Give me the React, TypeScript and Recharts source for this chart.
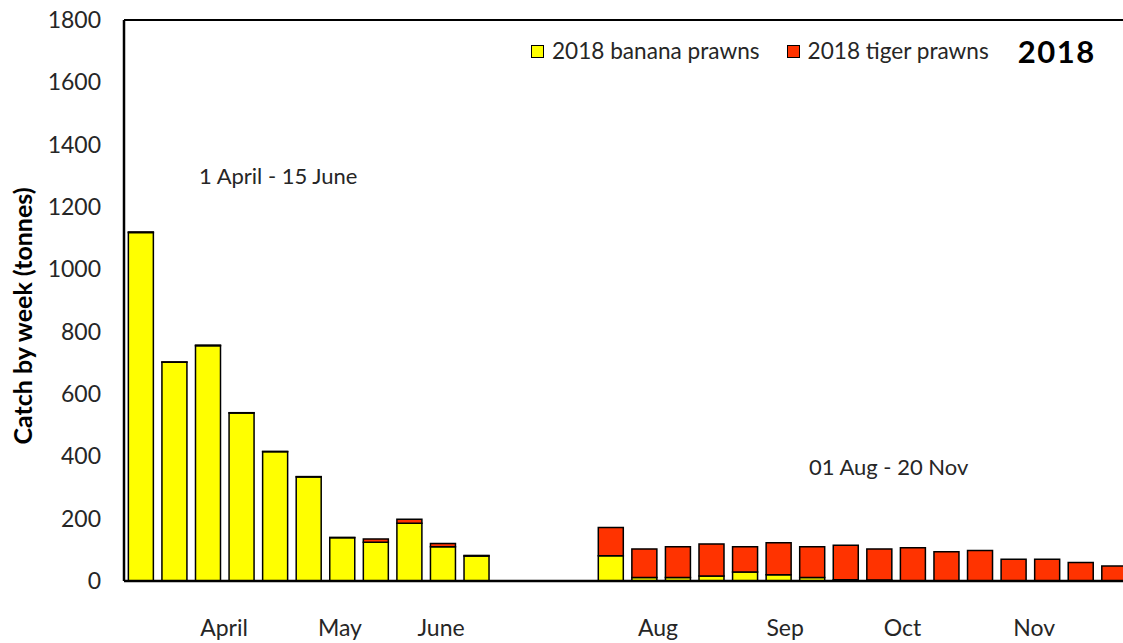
import React from 'react';
import { BarChart, Bar, XAxis, YAxis, ReferenceLine, Legend } from 'recharts';

// weekly catch, 1 Apr - 15 Jun then 01 Aug - 20 Nov (three blank slots for the closed season)
const weeks = [
  '1 Apr', '8 Apr', '15 Apr', '22 Apr', '29 Apr', '6 May', '13 May', '20 May', '27 May', '3 Jun', '10 Jun',
  '', '', '',
  '1 Aug', '8 Aug', '15 Aug', '22 Aug', '29 Aug', '5 Sep', '12 Sep', '19 Sep', '26 Sep',
  '3 Oct', '10 Oct', '17 Oct', '24 Oct', '31 Oct', '7 Nov', '14 Nov',
];
const banana = [
  1118, 702, 755, 539, 415, 334, 139, 124, 185, 110, 80,
  null, null, null,
  81, 11, 11, 16, 29, 20, 11, 4, 3, 0, 0, 0, 0, 0, 0, 0,
];
const tiger = [
  2, 1, 2, 1, 1, 1, 1, 11, 13, 10, 2,
  null, null, null,
  91, 92, 99, 103, 81, 103, 99, 111, 100, 107, 94, 98, 70, 70, 59, 48,
];
const yTicks = [0, 200, 400, 600, 800, 1000, 1200, 1400, 1600, 1800];
const monthNames = ['April', 'May', 'June', 'Aug', 'Sep', 'Oct', 'Nov'];
// label positions on a 0-29 scale spanning the plot width
const monthPos = [2.88, 6.22, 9.13, 15.38, 19.04, 22.42, 26.21];

const data = weeks.map((w, i) => ({ week: w, banana: banana[i], tiger: tiger[i] }));

const FONT = 'Lato, "Open Sans", sans-serif';
const TEXT = '#262626';

function LegendBox({ payload }: any) {
  return (
    <div style={{ display: 'flex', alignItems: 'center', fontFamily: FONT, color: TEXT, fontSize: 22.6, lineHeight: '30px', whiteSpace: 'nowrap' }}>
      {(payload || []).map((p: any) => (
        <div key={p.value} style={{ display: 'flex', alignItems: 'center', marginRight: 27 }}>
          <span style={{ display: 'inline-block', width: 11, height: 11, background: p.color, border: '1px solid #000', marginRight: 8 }} />
          <span>{p.value}</span>
        </div>
      ))}
      <span style={{ fontWeight: 700, fontSize: 31, letterSpacing: 1.5, color: '#000', marginLeft: 2 }}>2018</span>
    </div>
  );
}

export default function App() {
  return (
    <div style={{ position: 'fixed', left: 0, top: 0, width: 1123, height: 643, overflow: 'hidden', background: '#fff', fontFamily: FONT }}>
      <BarChart width={1131} height={643} data={data} margin={{ top: 20, right: 0, bottom: 0, left: 0 }} barCategoryGap="13%">
        <XAxis dataKey="week" hide height={0} />
        <XAxis
          xAxisId="m"
          type="number"
          domain={[0, 29]}
          allowDataOverflow
          ticks={monthPos}
          tickFormatter={(v: number) => monthNames[monthPos.indexOf(v)] ?? ''}
          axisLine={{ stroke: '#000', strokeWidth: 2.5 }}
          tickLine={false}
          tickSize={0}
          tickMargin={39}
          height={62}
          tick={{ fill: TEXT, fontSize: 23, fontFamily: FONT }}
          interval={0}
        />
        <YAxis
          domain={[0, 1800]}
          ticks={yTicks}
          width={124}
          axisLine={{ stroke: '#000', strokeWidth: 2.5 }}
          tickLine={false}
          tickSize={0}
          tickMargin={23}
          tick={{ fill: TEXT, fontSize: 23, fontFamily: FONT }}
          label={() => (
            <text
              x={22}
              y={316}
              transform="rotate(-90, 22, 316)"
              textAnchor="middle"
              dominantBaseline="central"
              style={{ fontFamily: FONT, fontSize: 25, fontWeight: 700, fill: '#000' }}
            >
              Catch by week (tonnes)
            </text>
          )}
        />
        <ReferenceLine y={1800} stroke="#000" strokeWidth={2} ifOverflow="visible" />
        <Legend
          content={<LegendBox />}
          layout="horizontal"
          verticalAlign="middle"
          align="center"
          wrapperStyle={{ left: 531, top: 36, width: 'auto' }}
        />
        <Bar dataKey="banana" name="2018 banana prawns" stackId="a" fill="#FFFF00" stroke="#000" strokeWidth={1.5} isAnimationActive={false} />
        <Bar dataKey="tiger" name="2018 tiger prawns" stackId="a" fill="#FF3300" stroke="#000" strokeWidth={1.5} isAnimationActive={false} />
      </BarChart>
      <div style={{ position: 'absolute', left: 199, top: 162, fontSize: 22, color: TEXT, whiteSpace: 'nowrap' }}>1 April - 15 June</div>
      <div style={{ position: 'absolute', left: 809, top: 453, fontSize: 22, color: TEXT, whiteSpace: 'nowrap' }}>01 Aug - 20 Nov</div>
    </div>
  );
}
